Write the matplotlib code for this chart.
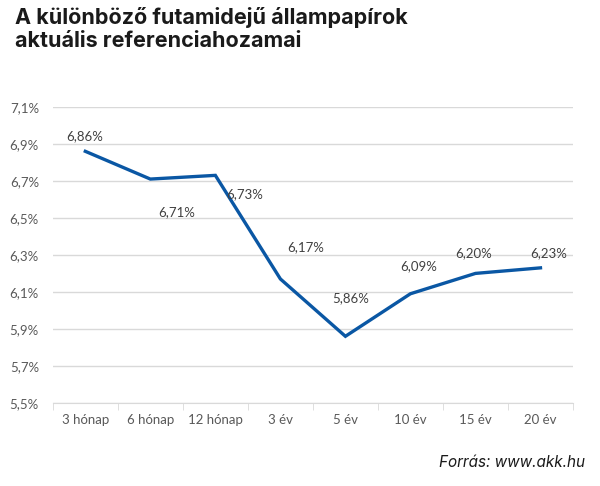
import matplotlib.pyplot as plt
from matplotlib.ticker import FixedLocator, FuncFormatter

categories = ['3 hónap', '6 hónap', '12 hónap', '3 év', '5 év', '10 év', '15 év', '20 év']
yields = [6.86, 6.71, 6.73, 6.17, 5.86, 6.09, 6.20, 6.23]
# label offsets in pixels (dx, dy) relative to each point
label_offsets = [(-1, 15), (26, -33), (29, -19), (25, 32), (5, 38), (8, 28), (-2, 20), (8, 15)]
yticks = [5.5, 5.7, 5.9, 6.1, 6.3, 6.5, 6.7, 6.9, 7.1]

plt.rcParams['font.family'] = ['Lato', 'DejaVu Sans']

fig = plt.figure(figsize=(6, 4.86), dpi=100)
ax = fig.add_axes([0.088, 0.171, 0.867, 0.609])

x = list(range(len(categories)))
ax.plot(x, yields, color='#0A57A4', lw=2.4, solid_joinstyle='miter', zorder=3)

for xi, yi, (dx, dy) in zip(x, yields, label_offsets):
    ax.annotate(f'{yi:.2f}%'.replace('.', ','), (xi, yi), xytext=(dx * 0.72, dy * 0.72),
                textcoords='offset points', ha='center', va='center',
                fontsize=9.5, color='#404040')

ax.set_xlim(-0.5, len(categories) - 0.5)
ax.set_ylim(5.5, 7.1)
ax.yaxis.set_major_locator(FixedLocator(yticks))
ax.yaxis.set_major_formatter(FuncFormatter(lambda v, p: f'{v:.1f}%'.replace('.', ',')))
ax.grid(axis='y', color='#D9D9D9', lw=1)
ax.set_axisbelow(True)

ax.set_xticks(x)
ax.set_xticklabels(categories)
ax.set_xticks([i - 0.5 for i in range(len(categories) + 1)], minor=True)
ax.tick_params(axis='x', which='major', length=0, pad=8, labelsize=9.5, colors='#595959')
ax.tick_params(axis='x', which='minor', length=5, color='#D9D9D9')
ax.tick_params(axis='y', length=0, pad=10, labelsize=9.5, colors='#595959')

for s in ['top', 'right', 'left']:
    ax.spines[s].set_visible(False)
ax.spines['bottom'].set_color('#D9D9D9')

fig.text(0.025, 0.985, 'A különböző futamidejű állampapírok\naktuális referenciahozamai',
         fontsize=15.5, fontweight='bold', family=['Inter', 'DejaVu Sans'],
         color='#1A1A1A', ha='left', va='top', linespacing=1.2)
fig.text(0.975, 0.033, 'Forrás: www.akk.hu', fontsize=11, style='italic',
         family=['Inter', 'DejaVu Sans'], color='#1A1A1A', ha='right', va='bottom')

fig.savefig('out.png', dpi=100)
